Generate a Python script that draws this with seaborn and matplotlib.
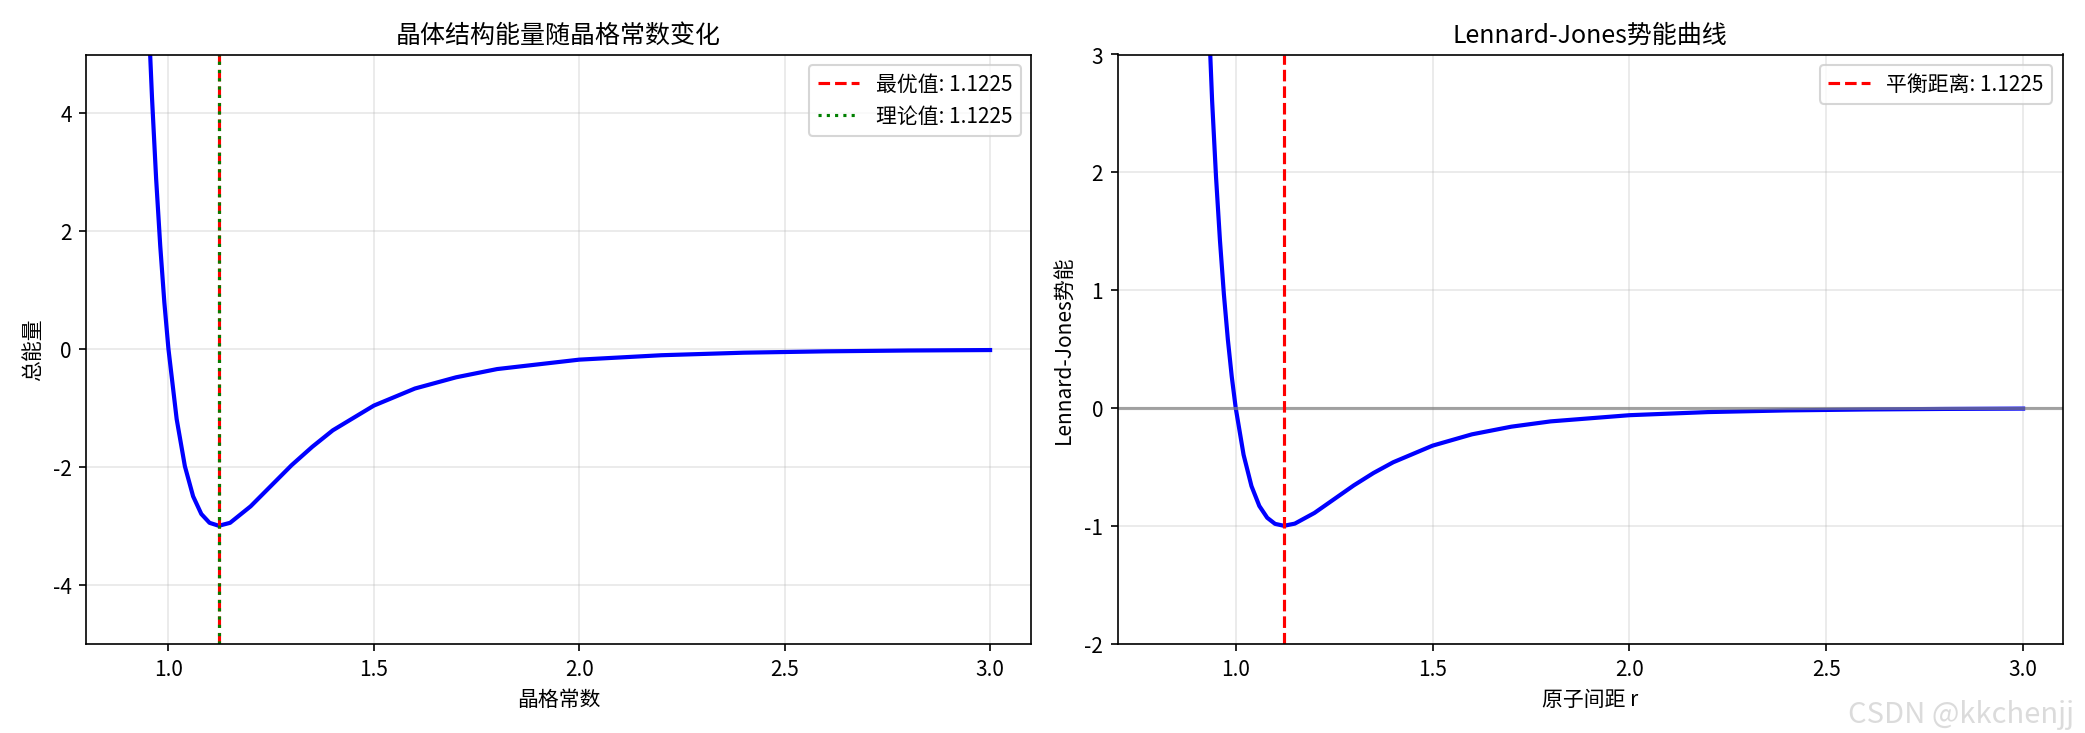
import matplotlib
matplotlib.use("Agg")
import matplotlib.pyplot as plt
import pandas as pd
import seaborn as sns

# 原子间距 / 晶格常数
r_vals = [0.90, 0.92, 0.94, 0.95, 0.96, 0.97, 0.98, 0.99, 1.00, 1.02, 1.04, 1.06,
          1.08, 1.10, 1.1225, 1.15, 1.20, 1.25, 1.30, 1.35, 1.40, 1.50, 1.60,
          1.70, 1.80, 2.00, 2.20, 2.40, 2.60, 2.80, 3.00]
lj_vals = [6.64, 4.28, 2.61, 1.96, 1.42, 0.963, 0.582, 0.264, 0.0, -0.398, -0.663,
           -0.832, -0.932, -0.984, -1.000, -0.982, -0.891, -0.774, -0.657, -0.552,
           -0.461, -0.320, -0.224, -0.159, -0.114, -0.0615, -0.035, -0.0208,
           -0.0129, -0.0083, -0.0055]
total_vals = [19.92, 12.84, 7.83, 5.88, 4.26, 2.89, 1.75, 0.79, 0.0, -1.19, -1.99,
              -2.50, -2.80, -2.95, -3.00, -2.95, -2.67, -2.32, -1.97, -1.66,
              -1.38, -0.96, -0.67, -0.48, -0.34, -0.18, -0.105, -0.062,
              -0.039, -0.025, -0.017]
optimal_a = 1.1225
theory_a = 1.1225

df = pd.DataFrame({"r": r_vals, "lj": lj_vals, "total": total_vals})

plt.rcParams['font.family'] = ['Noto Sans CJK SC', 'DejaVu Sans']
plt.rcParams['axes.unicode_minus'] = False

fig, (ax1, ax2) = plt.subplots(1, 2, figsize=(13.9, 4.89), dpi=150)

sns.lineplot(data=df, x="r", y="total", ax=ax1, color="blue", linewidth=2, sort=False)
ax1.axvline(optimal_a, color="red", linestyle="--", label=f"最优值: {optimal_a:.4f}")
ax1.axvline(theory_a, color="green", linestyle=":", label=f"理论值: {theory_a:.4f}")
ax1.set_xlim(0.8, 3.1)
ax1.set_ylim(-5, 5)
ax1.set_xlabel("晶格常数")
ax1.set_ylabel("总能量")
ax1.set_title("晶体结构能量随晶格常数变化")
ax1.grid(True, alpha=0.3)
ax1.legend(loc="upper right")

sns.lineplot(data=df, x="r", y="lj", ax=ax2, color="blue", linewidth=2, sort=False)
ax2.axhline(0, color="gray", alpha=0.7)
ax2.axvline(optimal_a, color="red", linestyle="--", label=f"平衡距离: {optimal_a:.4f}")
ax2.set_xlim(0.7, 3.1)
ax2.set_ylim(-2, 3)
ax2.set_xlabel("原子间距 r")
ax2.set_ylabel("Lennard-Jones势能")
ax2.set_title("Lennard-Jones势能曲线")
ax2.grid(True, alpha=0.3)
ax2.legend(loc="upper right")

plt.tight_layout()
fig.text(0.995, 0.005, "CSDN @kkchenjj", ha="right", va="bottom", fontsize=14,
         color="lightgray", alpha=0.8)
plt.savefig("out.png", dpi=150)
